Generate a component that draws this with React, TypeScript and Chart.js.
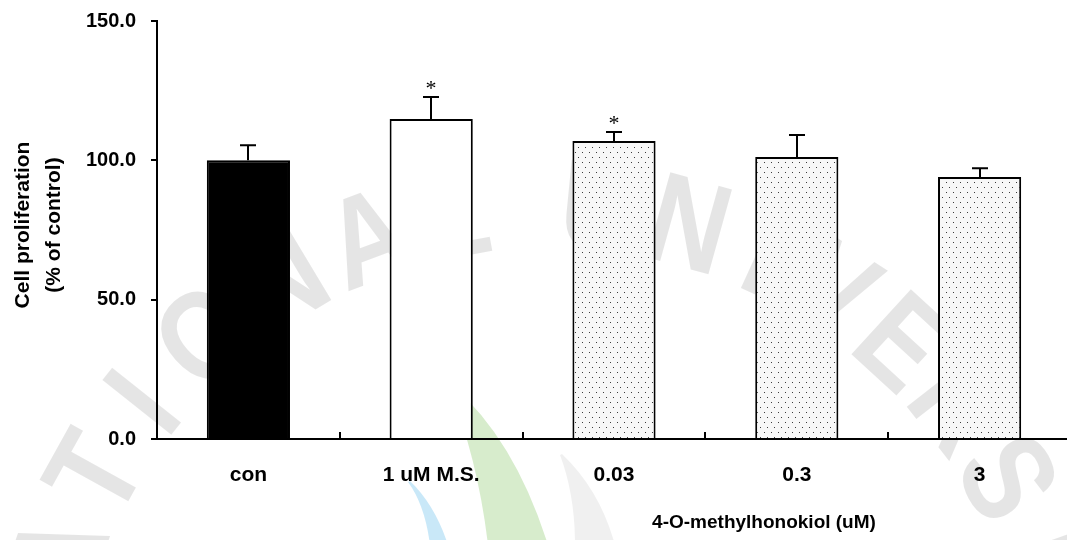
import React, { useEffect, useRef } from "react";
import { Chart, registerables } from "chart.js";

Chart.register(...registerables);

// ---- data ----
const categories = ["con", "1 uM M.S.", "0.03", "0.3", "3"];
const means = [100.0, 114.8, 106.9, 101.2, 94.0];
const errors = [5.4, 7.9, 3.3, 7.9, 3.2];
const significant = [false, true, true, false, false];
const yTicks = [0, 50, 100, 150];
const yTitleLines = ["Cell proliferation", "(% of control)"];
const xTitle = "4-O-methylhonokiol (uM)";
const watermarkText = "NATIONAL UNIVERSITY";

const FONT = '"Liberation Sans", Arial, sans-serif';
// angular placement (degrees) of watermark letters along the arc
const WM_ANGLES = [-171, -161, -151, -141.5, -131.5, -121, -110.5, -100.5, -92, -84.5, -74.5, -65.5, -57, -47.5, -38, -28.5, -19.5, -10.5, -1.5];

function makeDotPattern(ctx: CanvasRenderingContext2D): CanvasPattern | string {
  const c = document.createElement("canvas");
  c.width = 7;
  c.height = 10;
  const g = c.getContext("2d");
  if (!g) return "#f4f4f4";
  g.fillStyle = "#f7f7f7";
  g.fillRect(0, 0, 7, 10);
  g.fillStyle = "#3a3a3a";
  g.fillRect(1, 2, 1, 1);
  g.fillRect(4, 7, 1, 1);
  return ctx.createPattern(c, "repeat") || "#f4f4f4";
}

const backgroundPlugin = {
  id: "bgWatermark",
  beforeDraw(chart: any) {
    const ctx: CanvasRenderingContext2D = chart.ctx;
    ctx.save();
    ctx.fillStyle = "#ffffff";
    ctx.fillRect(0, 0, chart.width, chart.height);

    // faint swooshes
    ctx.fillStyle = "rgba(140,200,110,0.35)";
    ctx.beginPath();
    ctx.moveTo(449, 387);
    ctx.quadraticCurveTo(478, 460, 488, 545);
    ctx.lineTo(548, 545);
    ctx.quadraticCurveTo(515, 440, 452, 385);
    ctx.closePath();
    ctx.fill();

    ctx.fillStyle = "rgba(100,190,235,0.35)";
    ctx.beginPath();
    ctx.moveTo(408, 482);
    ctx.quadraticCurveTo(425, 505, 430, 545);
    ctx.lineTo(448, 545);
    ctx.quadraticCurveTo(435, 505, 410, 481);
    ctx.closePath();
    ctx.fill();

    ctx.fillStyle = "rgba(0,0,0,0.06)";
    ctx.beginPath();
    ctx.moveTo(560, 455);
    ctx.quadraticCurveTo(575, 495, 575, 545);
    ctx.lineTo(615, 545);
    ctx.quadraticCurveTo(600, 490, 562, 454);
    ctx.closePath();
    ctx.fill();

    // arced text watermark
    const cx = 550, cy = 726, r = 513;
    ctx.fillStyle = "rgba(0,0,0,0.10)";
    ctx.font = `bold 128px ${FONT}`;
    ctx.textAlign = "center";
    ctx.textBaseline = "middle";
    for (let i = 0; i < watermarkText.length; i++) {
      const ch = watermarkText[i];
      if (ch === " ") continue;
      const a = (WM_ANGLES[i] * Math.PI) / 180;
      ctx.save();
      ctx.translate(cx + r * Math.cos(a), cy + r * Math.sin(a));
      ctx.rotate(a + Math.PI / 2);
      ctx.scale(0.85, 1);
      ctx.fillText(ch, 0, 0);
      ctx.restore();
    }
    ctx.restore();
  },
};

const errorBarPlugin = {
  id: "errorBars",
  afterDatasetsDraw(chart: any) {
    const ctx: CanvasRenderingContext2D = chart.ctx;
    const meta = chart.getDatasetMeta(0);
    const ys = chart.scales.y;
    const xs = chart.scales.x;
    ctx.save();
    ctx.strokeStyle = "#000";
    ctx.fillStyle = "#000";
    ctx.lineWidth = 2;
    meta.data.forEach((bar: any, i: number) => {
      const x = Math.round(bar.x);
      const top = ys.getPixelForValue(means[i]);
      const cap = ys.getPixelForValue(means[i] + errors[i]);
      ctx.beginPath();
      ctx.moveTo(x, top);
      ctx.lineTo(x, cap);
      ctx.moveTo(x - 8, cap);
      ctx.lineTo(x + 8, cap);
      ctx.stroke();
      if (significant[i]) {
        ctx.font = '22px "Liberation Serif", "Times New Roman", serif';
        ctx.textAlign = "center";
        ctx.textBaseline = "alphabetic";
        ctx.fillText("*", x, cap - 2);
      }
    });
    // inward ticks on x axis between categories
    const bottom = chart.chartArea.bottom;
    for (let i = 1; i < categories.length; i++) {
      const px = Math.round((xs.getPixelForValue(i - 1) + xs.getPixelForValue(i)) / 2);
      ctx.beginPath();
      ctx.moveTo(px, bottom);
      ctx.lineTo(px, bottom - 7);
      ctx.stroke();
    }
    ctx.restore();
  },
};

const titlePlugin = {
  id: "axisTitles",
  afterDraw(chart: any) {
    const ctx: CanvasRenderingContext2D = chart.ctx;
    ctx.save();
    ctx.fillStyle = "#000";
    ctx.font = `bold 21px ${FONT}`;
    ctx.textAlign = "center";
    ctx.textBaseline = "middle";
    const lineX = [23, 54];
    yTitleLines.forEach((t, i) => {
      ctx.save();
      ctx.translate(lineX[i], 225);
      ctx.rotate(-Math.PI / 2);
      ctx.fillText(t, 0, 0);
      ctx.restore();
    });
    ctx.font = `bold 19px ${FONT}`;
    ctx.fillText(xTitle, 764, 523);
    ctx.restore();
  },
};

export default function App() {
  const canvasRef = useRef<HTMLCanvasElement | null>(null);

  useEffect(() => {
    const canvas = canvasRef.current;
    if (!canvas) return;
    const ctx = canvas.getContext("2d");
    if (!ctx) return;
    const dots = makeDotPattern(ctx);
    const fills = ["#000000", "#ffffff", dots, dots, dots];

    const chart = new Chart(canvas, {
      type: "bar",
      data: {
        labels: categories,
        datasets: [
          {
            data: means,
            backgroundColor: fills as any,
            borderColor: "#000",
            borderWidth: 2,
            barPercentage: 0.455,
            categoryPercentage: 1,
          },
        ],
      },
      options: {
        animation: false,
        responsive: false,
        devicePixelRatio: 1,
        layout: { padding: { left: 0, top: 21, right: 0, bottom: 0 } },
        plugins: {
          legend: { display: false },
          tooltip: { enabled: false },
          title: { display: false },
        },
        scales: {
          x: {
            type: "category",
            afterFit: (s: any) => {
              s.height = 101;
              s.paddingLeft = 0;
              s.paddingRight = 0;
            },
            grid: { display: true, drawOnChartArea: false, drawTicks: false },
            border: { display: true, color: "#000", width: 2 },
            ticks: {
              color: "#000",
              font: { family: FONT, size: 21, weight: "bold" },
              padding: 24,
              maxRotation: 0,
              autoSkip: false,
            },
          },
          y: {
            min: 0,
            max: 150,
            afterFit: (s: any) => {
              s.width = 157;
              s.paddingTop = 0;
              s.paddingBottom = 0;
            },
            afterBuildTicks: (s: any) => {
              s.ticks = yTicks.map((v) => ({ value: v }));
            },
            ticks: {
              color: "#000",
              font: { family: FONT, size: 20, weight: "bold" },
              padding: 15,
              callback: (v: any) => Number(v).toFixed(1),
            },
            grid: {
              drawOnChartArea: false,
              drawTicks: true,
              tickLength: 6,
              color: "#000",
              lineWidth: 2,
            },
            border: { display: true, color: "#000", width: 2 },
          },
        },
      } as any,
      plugins: [backgroundPlugin, errorBarPlugin, titlePlugin],
    });

    return () => chart.destroy();
  }, []);

  return (
    <div
      style={{
        position: "fixed",
        left: 0,
        top: 0,
        width: 1067,
        height: 540,
        overflow: "hidden",
        background: "#fff",
      }}
    >
      <canvas ref={canvasRef} width={1071} height={540} style={{ display: "block" }} />
    </div>
  );
}
